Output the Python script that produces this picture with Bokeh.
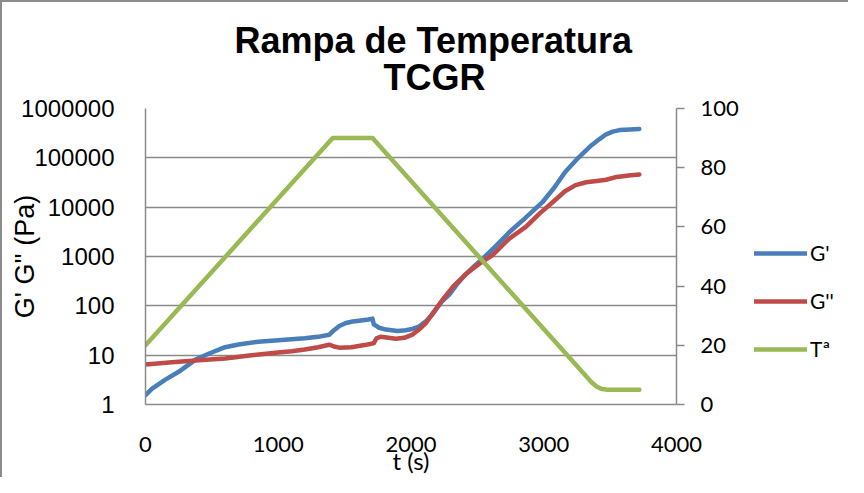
from bokeh.plotting import figure
from bokeh.layouts import row
from bokeh.models import (Range1d, LinearAxis, LinearScale, Legend, LegendItem, Title,
                          FixedTicker, CustomJSTickFormatter)
from bokeh.embed import file_html
from bokeh.resources import INLINE

# ---------------- data ----------------
t_g1 = [0, 50, 100, 150, 250, 380, 480, 600, 700, 850, 1000, 1100, 1200, 1300,
        1385, 1420, 1460, 1510, 1560, 1610, 1680, 1710, 1720, 1760, 1810, 1900,
        1960, 2010, 2060, 2110, 2160, 2230, 2290, 2350, 2410, 2480, 2540, 2640,
        2740, 2860, 2990, 3080, 3160, 3260, 3360, 3420, 3470, 3520, 3570, 3650, 3720]
g1 = [1.55, 2.1, 2.6, 3.2, 4.6, 8.2, 10.8, 14.5, 16.5, 18.7, 20, 21, 22, 23.5,
      26, 32, 39, 45, 48, 50, 53, 55, 42, 36, 33, 31,
      32, 34, 38, 48, 66, 120, 170, 280, 430, 650, 900, 1650,
      3100, 6000, 12600, 25000, 51000, 100000, 180000, 240000, 300000, 340000, 365000, 375000, 385000]

t_g2 = [0, 200, 400, 600, 800, 1000, 1100, 1200, 1300, 1385, 1420, 1460, 1550,
        1650, 1700, 1720, 1740, 1770, 1830, 1885, 1950, 2010, 2060, 2110, 2170,
        2235, 2320, 2410, 2510, 2615, 2740, 2865, 2970, 3067, 3160, 3240, 3320,
        3400, 3470, 3550, 3640, 3720]
g2 = [6.5, 7.2, 7.9, 8.6, 10, 11.3, 12, 13, 14.5, 16.3, 15, 14.2, 14.5,
      16, 17, 17.5, 22, 23.6, 22.5, 21.5, 22.5, 26, 33, 44, 75,
      130, 250, 430, 700, 1070, 2300, 4000, 7500, 12600, 21000, 28000, 32000,
      34000, 36000, 41000, 44000, 46000]

t_temp = [0, 1410, 1710, 3360, 3400, 3440, 3480, 3720]
temp = [20, 90, 90, 7.5, 6, 5.2, 5, 5]

x_ticks = [0, 1000, 2000, 3000, 4000]
y_ticks = [1, 10, 100, 1000, 10000, 100000, 1000000]
t_ticks = [0, 20, 40, 60, 80, 100]
series_names = ["G'", "G''", "Tª"]
series_colors = ["#4A7EBB", "#BE4B48", "#98B954"]
title_lines = ["Rampa de Temperatura", "TCGR"]

# ---------------- main figure ----------------
W, H = 748, 477          # main chart; a 100px legend strip follows on the right
LEG_W = 100
FL, FR, FT, FB = 145, 676, 108, 405
GRAY = "#8a8a8a"
LW = 4.5

p = figure(width=W, height=H, output_backend="svg", toolbar_location=None,
           y_axis_type="log", x_range=Range1d(0, 4000), y_range=Range1d(1, 1e6),
           min_border_left=FL, min_border_right=W - FR,
           min_border_top=FT, min_border_bottom=H - FB, title=None)
p.extra_y_ranges = {"T": Range1d(0, 100)}
p.extra_y_scales = {"T": LinearScale()}
p.outline_line_color = None
p.background_fill_color = "white"
p.border_fill_color = None

# grid
p.xgrid.visible = False
p.ygrid.ticker = FixedTicker(ticks=y_ticks)
p.ygrid.grid_line_color = GRAY
p.ygrid.grid_line_width = 1.5

# left axis
ya = p.yaxis[0]
ya.ticker = FixedTicker(ticks=y_ticks)
ya.formatter = CustomJSTickFormatter(code="return Math.round(tick).toString();")
ya.major_tick_line_color = None
ya.minor_tick_line_color = None
ya.axis_line_color = GRAY
ya.axis_line_width = 1.5
ya.major_label_text_font = "Liberation Sans"
ya.major_label_text_font_size = "24px"
ya.major_label_text_color = "black"
ya.major_label_standoff = 25
ya.axis_label = "G' G'' (Pa)"
ya.axis_label_text_font = "Liberation Sans"
ya.axis_label_text_font_size = "27px"
ya.axis_label_text_font_style = "normal"
ya.axis_label_text_color = "black"
ya.axis_label_standoff = -22

# bottom axis
xa = p.xaxis[0]
xa.ticker = FixedTicker(ticks=x_ticks)
xa.major_tick_line_color = None
xa.minor_tick_line_color = None
xa.axis_line_color = GRAY
xa.axis_line_width = 1.5
xa.major_label_text_font = "Lato"
xa.major_label_text_font_size = "22px"
xa.major_label_text_color = "black"
xa.major_label_standoff = 26
xa.axis_label = "t (s)"
xa.axis_label_text_font = "Lato"
xa.axis_label_text_font_size = "24px"
xa.axis_label_text_font_style = "normal"
xa.axis_label_text_color = "black"
xa.axis_label_standoff = -9

# right axis
ra = LinearAxis(y_range_name="T", ticker=FixedTicker(ticks=t_ticks))
ra.major_tick_out = 8
ra.major_tick_in = 0
ra.major_tick_line_color = GRAY
ra.major_tick_line_width = 1.5
ra.minor_tick_line_color = None
ra.axis_line_color = GRAY
ra.axis_line_width = 1.5
ra.major_label_text_font = "Lato"
ra.major_label_text_font_size = "22px"
ra.major_label_text_color = "black"
ra.major_label_standoff = 16
p.add_layout(ra, "right")

# series
p.line(t_g1, g1, line_color=series_colors[0], line_width=LW, line_cap="round", line_join="round")
p.line(t_g2, g2, line_color=series_colors[1], line_width=LW, line_cap="round", line_join="round")
p.line(t_temp, temp, y_range_name="T", line_color=series_colors[2], line_width=LW,
       line_cap="round", line_join="round")

# title: two single-line titles, the one added later sits higher
TFS = "36px"
t2 = Title(text=title_lines[1], align="left", offset=238, standoff=22,
           text_font="Liberation Sans", text_font_style="bold",
           text_font_size=TFS, text_color="black")
t1 = Title(text=title_lines[0], align="left", offset=89, standoff=-34,
           text_font="Liberation Sans", text_font_style="bold",
           text_font_size=TFS, text_color="black")
p.add_layout(t2, "above")
p.add_layout(t1, "above")

# ---------------- legend strip ----------------
# The strip shows only the legend; its ranges keep the proxy series out of view.
lg = figure(width=LEG_W, height=H, output_backend="svg", toolbar_location=None,
            x_range=Range1d(-2, -1), y_range=Range1d(-2, -1),
            min_border=0, title=None)
lg.axis.visible = False
lg.grid.visible = False
lg.outline_line_color = None
lg.background_fill_color = None
lg.border_fill_color = None
items = []
for name, col, xs, ys in zip(series_names, series_colors,
                             [t_g1, t_g2, t_temp], [g1, g2, temp]):
    r = lg.line(xs, ys, line_color=col, line_width=LW, line_cap="round")
    items.append(LegendItem(label=name, renderers=[r]))
leg = Legend(items=items, location=(6, 43), orientation="vertical",
             glyph_width=53, glyph_height=20, label_height=20, spacing=23,
             padding=0, margin=0, border_line_color=None, background_fill_alpha=0,
             label_text_font="Lato", label_text_font_size="21px",
             label_text_color="black", label_standoff=3)
lg.add_layout(leg)

layout = row(p, lg, spacing=0)
layout.styles = {"box-shadow": "inset 2px 2px 0 #8c8c8c"}

open("out.html", "w").write(file_html(layout, INLINE))
